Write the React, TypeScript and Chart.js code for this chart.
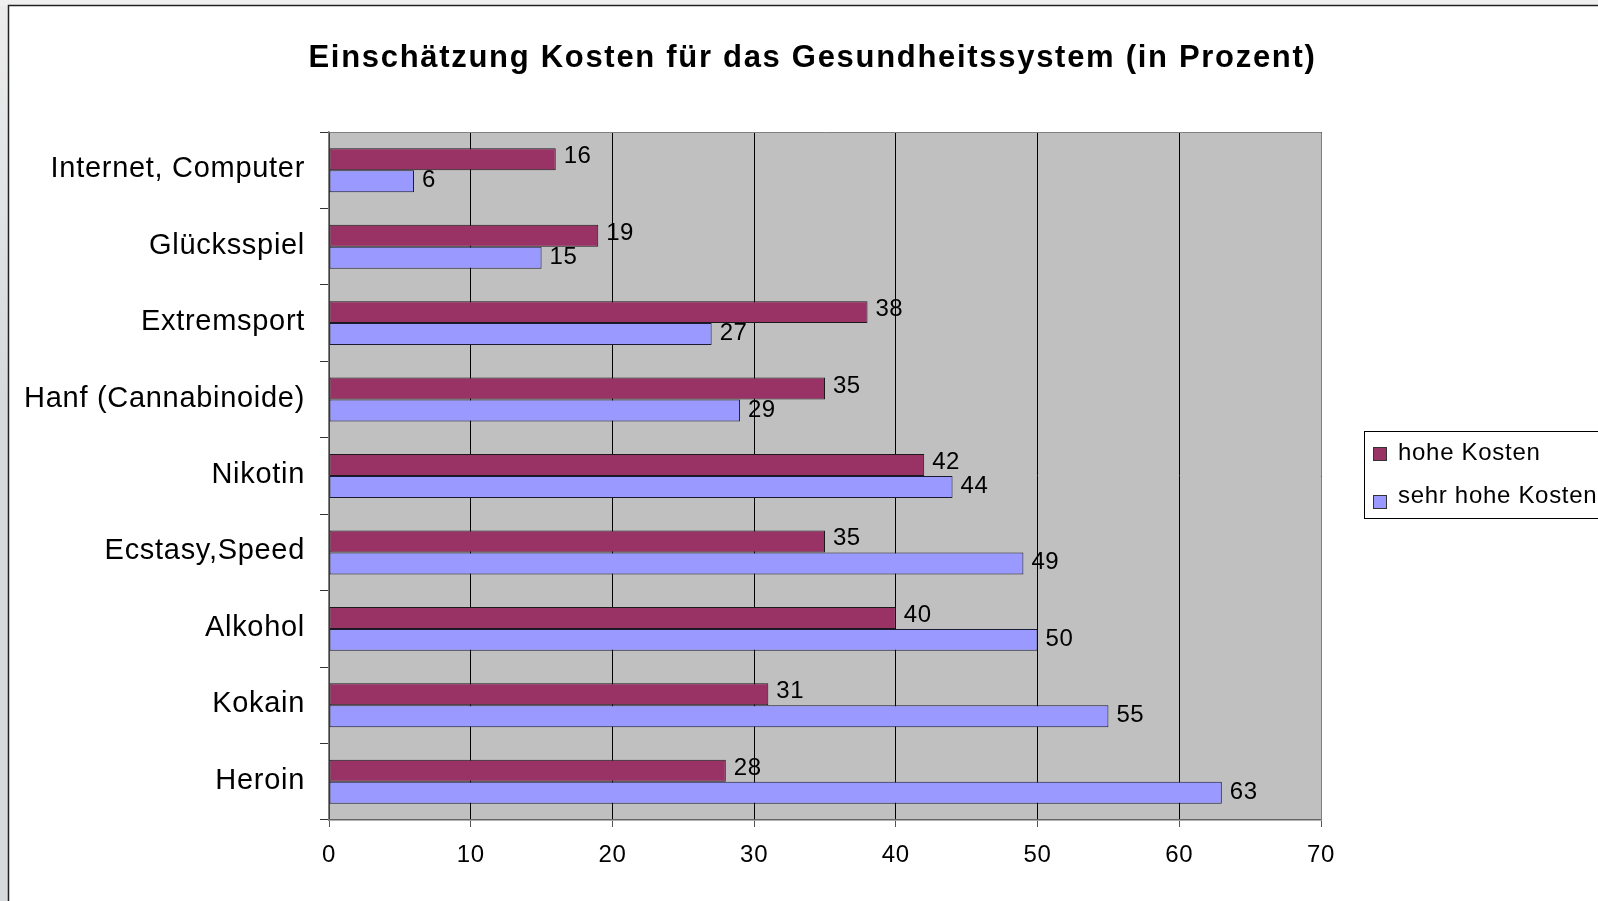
import React, { useEffect, useRef } from "react";
import { Chart, registerables } from "chart.js";

Chart.register(...registerables);

const chartTitle = "Einschätzung Kosten für das Gesundheitssystem (in Prozent)";
const categories = [
  "Internet, Computer",
  "Glücksspiel",
  "Extremsport",
  "Hanf (Cannabinoide)",
  "Nikotin",
  "Ecstasy,Speed",
  "Alkohol",
  "Kokain",
  "Heroin",
];
const hoheKosten = [16, 19, 38, 35, 42, 35, 40, 31, 28];
const sehrHoheKosten = [6, 15, 27, 29, 44, 49, 50, 55, 63];
const seriesLabels = ["hohe Kosten", "sehr hohe Kosten"];
const seriesColors = ["#993366", "#9999ff"];
const xMin = 0;
const xMax = 70;
const xStep = 10;

const FONT = "'Liberation Sans', Arial, Helvetica, sans-serif";
const W = 1598;
const H = 901;

const backgroundPlugin = {
  id: "bgPlugin",
  beforeDraw(chart: any) {
    const ctx = chart.ctx as any;
    const { left, top, right, bottom } = chart.chartArea;
    ctx.save();
    ctx.fillStyle = "#f0f0f0";
    ctx.fillRect(0, 0, W, H);
    const g = ctx.createLinearGradient(0, 0, 0, 400);
    g.addColorStop(0, "#ececec");
    g.addColorStop(1, "#d6dadd");
    ctx.fillStyle = g;
    ctx.fillRect(0, 6, 8, H);
    ctx.fillStyle = "#ffffff";
    ctx.fillRect(9, 6, W, H);
    ctx.strokeStyle = "#222222";
    ctx.lineWidth = 1.5;
    ctx.beginPath();
    ctx.moveTo(8.5, H);
    ctx.lineTo(8.5, 5.5);
    ctx.lineTo(W, 5.5);
    ctx.stroke();
    // plot background
    ctx.fillStyle = "#c0c0c0";
    ctx.fillRect(left, top, right - left, bottom - top);
    // title
    ctx.fillStyle = "#000000";
    ctx.font = `bold 31px ${FONT}`;
    ctx.letterSpacing = "1.7px";
    ctx.textAlign = "center";
    ctx.textBaseline = "alphabetic";
    ctx.fillText(chartTitle, 812.5, 67);
    ctx.restore();
    ctx.letterSpacing = "0.7px";
  },
  beforeDatasetsDraw(chart: any) {
    const ctx = chart.ctx as CanvasRenderingContext2D;
    const { left, top, right, bottom } = chart.chartArea;
    ctx.save();
    ctx.strokeStyle = "#808080";
    ctx.lineWidth = 1;
    ctx.beginPath();
    ctx.moveTo(Math.round(left) + 0.5, Math.round(top) + 0.5);
    ctx.lineTo(Math.round(right) + 0.5, Math.round(top) + 0.5);
    ctx.lineTo(Math.round(right) + 0.5, Math.round(bottom) + 0.5);
    ctx.stroke();
    ctx.restore();
  },
  afterDatasetsDraw(chart: any) {
    const ctx = chart.ctx as any;
    ctx.save();
    ctx.fillStyle = "#000000";
    ctx.font = `24px ${FONT}`;
    ctx.letterSpacing = "0.5px";
    ctx.textAlign = "left";
    ctx.textBaseline = "alphabetic";
    chart.data.datasets.forEach((ds: any, di: number) => {
      const meta = chart.getDatasetMeta(di);
      meta.data.forEach((el: any, i: number) => {
        const v = ds.data[i];
        const dy = di === 0 ? 5 : 7;
        ctx.fillText(String(v), el.x + 8, el.y + dy - 1);
      });
    });
    ctx.restore();
  },
  afterDraw(chart: any) {
    const ctx = chart.ctx as any;
    ctx.save();
    // legend box
    ctx.fillStyle = "#ffffff";
    ctx.fillRect(1364.5, 431.5, 300, 87);
    ctx.strokeStyle = "#000000";
    ctx.lineWidth = 1;
    ctx.strokeRect(1364.5, 431.5, 300, 87);
    const rows = [
      { sq: 447, base: 460 },
      { sq: 495, base: 503 },
    ];
    chart.data.datasets.forEach((ds: any, di: number) => {
      const r = rows[di];
      ctx.fillStyle = ds.backgroundColor;
      ctx.fillRect(1373.5, r.sq + 0.5, 13, 13);
      ctx.strokeStyle = "#333333";
      ctx.strokeRect(1373.5, r.sq + 0.5, 13, 13);
      ctx.fillStyle = "#000000";
      ctx.font = `24px ${FONT}`;
      ctx.letterSpacing = "0.7px";
      ctx.textAlign = "left";
      ctx.textBaseline = "alphabetic";
      ctx.fillText(ds.label, 1398, r.base);
    });
    ctx.restore();
  },
};

export default function App() {
  const canvasRef = useRef<HTMLCanvasElement | null>(null);

  useEffect(() => {
    const canvas = canvasRef.current;
    if (!canvas) return;
    const chart = new Chart(canvas, {
      type: "bar",
      data: {
        labels: categories,
        datasets: [
          {
            label: seriesLabels[0],
            data: hoheKosten,
            backgroundColor: seriesColors[0],
            borderColor: "#1a1a1a",
            borderWidth: 1,
            borderSkipped: false,
            categoryPercentage: 0.575,
            barPercentage: 1,
          },
          {
            label: seriesLabels[1],
            data: sehrHoheKosten,
            backgroundColor: seriesColors[1],
            borderColor: "#1a1a33",
            borderWidth: 1,
            borderSkipped: false,
            categoryPercentage: 0.575,
            barPercentage: 1,
          },
        ],
      },
      options: {
        indexAxis: "y",
        responsive: false,
        maintainAspectRatio: false,
        animation: false,
        devicePixelRatio: 1,
        layout: { padding: { left: 0, top: 132, right: W - 1321, bottom: 0 } },
        plugins: {
          legend: { display: false },
          title: { display: false },
          tooltip: { enabled: false },
        },
        scales: {
          x: {
            type: "linear",
            position: "bottom",
            min: xMin,
            max: xMax,
            ticks: {
              stepSize: xStep,
              color: "#000000",
              font: { family: FONT, size: 24 },
              padding: 14,
            },
            grid: {
              color: "#000000",
              lineWidth: 1,
              drawTicks: true,
              tickLength: 7,
              tickColor: "#555555",
            },
            border: { display: true, color: "#666666", width: 1.5 },
            afterFit: (scale: any) => {
              scale.height = H - 820;
            },
          },
          y: {
            type: "category",
            position: "left",
            ticks: {
              color: "#000000",
              font: { family: FONT, size: 29 },
              padding: 15,
              labelOffset: -1,
            },
            grid: {
              offset: true,
              drawOnChartArea: false,
              drawTicks: true,
              tickLength: 9,
              tickColor: "#333333",
            },
            border: { display: true, color: "#808080", width: 1.5 },
            afterFit: (scale: any) => {
              scale.width = 329;
            },
          },
        },
      },
      plugins: [backgroundPlugin],
    } as any);
    return () => chart.destroy();
  }, []);

  return (
    <div
      style={{
        position: "fixed",
        left: 0,
        top: 0,
        width: W,
        height: H,
        overflow: "hidden",
      }}
    >
      <canvas ref={canvasRef} width={W} height={H} style={{ display: "block", width: W, height: H }} />
    </div>
  );
}
